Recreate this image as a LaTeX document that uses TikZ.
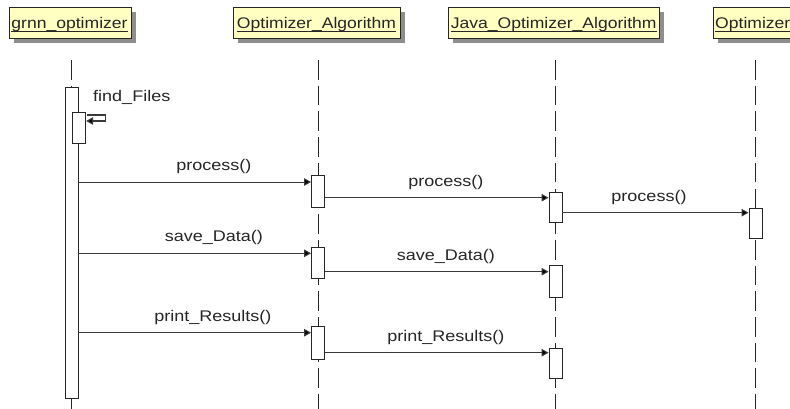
\documentclass[tikz,border=0pt]{standalone}
\usepackage{fontspec}
\setmainfont{Liberation Sans}[FakeStretch=1.17]
\newfontfamily\hdrfont{Liberation Sans}[FakeStretch=1.14]
\usetikzlibrary{arrows.meta,shadows}
\definecolor{hdrfill}{HTML}{FFFFC2}
\definecolor{linec}{HTML}{3A3A3A}
\definecolor{txtc}{HTML}{262626}
\definecolor{shadc}{HTML}{8E8E8E}
\tikzset{
  hdrbox/.style={draw=black!85, fill=hdrfill, line width=0.9pt, minimum height=31, inner sep=0, anchor=north west,
    drop shadow={shadow xshift=4.5pt, shadow yshift=-4.5pt, fill=shadc, opacity=1}},
  hdrtxt/.style={font=\hdrfont\fontsize{15.4}{18}\selectfont, inner sep=0, anchor=base, text=txtc},
  uline/.style={draw=txtc, line width=0.8pt},
  lifeline/.style={draw=black!85, line width=0.9pt, dash pattern=on 19.7pt off 6pt},
  actbox/.style={draw=black!85, fill=white, line width=0.9pt, minimum width=13, inner sep=0, anchor=north},
  msg/.style={draw=linec, line width=1pt, -{Triangle[length=7pt,width=7.5pt,fill=black]}},
  lbl/.style={font=\fontsize{15.4}{18}\selectfont, inner sep=0, text=txtc},
}
\begin{document}
\begin{tikzpicture}[x=1pt,y=-1pt]
\useasboundingbox (0,0) rectangle (790,409);
\clip (0,0) rectangle (790,409);
\fill[white] (0,0) rectangle (790,409);

% header boxes
\node[hdrbox, minimum width=122] (h1) at (9,7.3) {};
\node[hdrbox, minimum width=166.7] (h2) at (233.3,7.3) {};
\node[hdrbox, minimum width=211] (h3) at (448.3,7.3) {};
\node[hdrbox, minimum width=120] (h4) at (713,7.3) {};

\node[hdrtxt] (t1) at (69.5,28.3) {grnn\_optimizer};
\node[hdrtxt] (t2) at (316.5,28.3) {Optimizer\_Algorithm};
\node[hdrtxt] (t3) at (553.7,28.3) {Java\_Optimizer\_Algorithm};
\node[hdrtxt, anchor=base west] (t4) at (715,28.3) {Optimizer};
\foreach \t in {t1,t2,t3,t4}
  \draw[uline] ([yshift=-3.4pt]\t.base west) -- ([yshift=-3.4pt]\t.base east);

% lifelines
\coordinate (l1a) at (71.5,60);  \coordinate (l1b) at (71.5,409);
\coordinate (l2a) at (318,60);   \coordinate (l2b) at (318,409);
\coordinate (l3a) at (555.5,60); \coordinate (l3b) at (555.5,409);
\coordinate (l4a) at (755.5,60); \coordinate (l4b) at (755.5,409);
\draw[lifeline] (l1a) -- (l1b);
\draw[lifeline] (l2a) -- (l2b);
\draw[lifeline] (l3a) -- (l3b);
\draw[lifeline] (l4a) -- (l4b);

% activation boxes
\node[actbox, minimum height=310.7] (g0) at (71.5,87) {};
\node[actbox, minimum height=31]    (g1) at (79.2,112) {};
\node[actbox, minimum height=31.5]  (a1) at (318,175) {};
\node[actbox, minimum height=31]    (a2) at (318,246.5) {};
\node[actbox, minimum height=33]    (a3) at (318,326) {};
\node[actbox, minimum height=30]    (j1) at (555.5,192) {};
\node[actbox, minimum height=32]    (j2) at (555.5,265) {};
\node[actbox, minimum height=30]    (j3) at (555.5,348) {};
\node[actbox, minimum height=30]    (o1) at (755.5,208) {};

% self message
\draw[msg, line width=1.2pt] ([xshift=1.3pt,yshift=-3pt]g1.north east) -- ++(18,0) -- ++(0,6) -- ([yshift=-9pt]g1.north east);
\node[lbl, anchor=base west] (fl) at (93,101.7) {find\_Files};

% message targets
\coordinate (m1) at ([yshift=-7pt]a1.north west);
\coordinate (m2) at ([yshift=-5.7pt]j1.north west);
\coordinate (m3) at ([yshift=-4.7pt]o1.north west);
\coordinate (m4) at ([yshift=-6.8pt]a2.north west);
\coordinate (m5) at ([yshift=-6.7pt]j2.north west);
\coordinate (m6) at ([yshift=-6.7pt]a3.north west);
\coordinate (m7) at ([yshift=-4.7pt]j3.north west);

\draw[msg] (m1 -| g0.east) -- node[lbl, pos=0.582, anchor=base, yshift=11.6pt] (L1) {process()} (m1);
\draw[msg] (m2 -| a1.east) -- node[lbl, pos=0.541, anchor=base, yshift=11.6pt] (L2) {process()} (m2);
\draw[msg] (m3 -| j1.east) -- node[lbl, pos=0.465, anchor=base, yshift=11.6pt] (L3) {process()} (m3);
\draw[msg] (m4 -| g0.east) -- node[lbl, pos=0.582, anchor=base, yshift=11.6pt] (L4) {save\_Data()} (m4);
\draw[msg] (m5 -| a2.east) -- node[lbl, pos=0.541, anchor=base, yshift=11.6pt] (L5) {save\_Data()} (m5);
\draw[msg] (m6 -| g0.east) -- node[lbl, pos=0.578, anchor=base, yshift=11.6pt] (L6) {print\_Results()} (m6);
\draw[msg] (m7 -| a3.east) -- node[lbl, pos=0.541, anchor=base, yshift=11.6pt] (L7) {print\_Results()} (m7);
\end{tikzpicture}
\end{document}
